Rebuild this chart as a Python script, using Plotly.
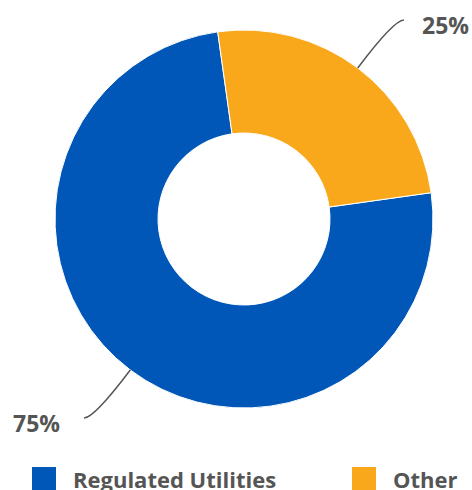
import math
import plotly.graph_objects as go

# ---- data ----
labels = ["Regulated Utilities", "Other"]
values = [75, 25]
text_labels = ["75%", "25%"]
colors = ["#0057B8", "#F9A81B"]

W, H = 472, 490
CX, CY, R = 244, 219, 189
ROT = 82
TXT = "#555555"
FONT = "Open Sans"

def px_to_paper(x, y):
    return x / W, 1 - y / H

fig = go.Figure()
fig.add_trace(go.Pie(
    labels=labels, values=values, sort=False, direction="clockwise",
    rotation=ROT, hole=0.455, textinfo="none", hoverinfo="label+percent",
    marker=dict(colors=colors, line=dict(color="white", width=1)),
    domain=dict(x=[(CX - R) / W, (CX + R) / W], y=[1 - (CY + R) / H, 1 - (CY - R) / H]),
    showlegend=False,
))

shapes = []
annotations = []
total = sum(values)
ang = ROT
for v, t in zip(values, text_labels):
    sweep = v / total * 360
    mid = math.radians(ang + sweep / 2)
    ang += sweep
    dx, dy = math.sin(mid), -math.cos(mid)
    sx, sy = CX + R * dx, CY + R * dy
    k = 48 / abs(dy)
    cx, cy = sx + k * dx, sy + k * dy
    side = 1 if dx >= 0 else -1
    ex, ey = cx + 10 * side, cy
    pts = [px_to_paper(*p) for p in [(sx, sy), (cx, cy), (ex, ey)]]
    path = "M{0},{1} Q{2},{3} {4},{5}".format(
        pts[0][0], pts[0][1], pts[1][0], pts[1][1], pts[2][0], pts[2][1])
    shapes.append(dict(type="path", path=path, xref="paper", yref="paper",
                       line=dict(color=TXT, width=1.5)))
    gap = 16 if side > 0 else 22
    lx, ly = px_to_paper(ex + gap * side, ey + 5)
    annotations.append(dict(text=t, x=lx, y=ly, xref="paper", yref="paper",
                            xanchor="left" if side > 0 else "right", yanchor="middle",
                            showarrow=False, font=dict(family=FONT, size=23, color=TXT, weight="bold")))

# custom legend
leg_y = 479
leg_x = [32, 352]
for x0, lab, c in zip(leg_x, labels, colors):
    a = px_to_paper(x0, 467)
    b = px_to_paper(x0 + 24, 491)
    shapes.append(dict(type="rect", xref="paper", yref="paper", x0=a[0], x1=b[0],
                       y0=b[1], y1=a[1], fillcolor=c, line=dict(width=0)))
    tx, ty = px_to_paper(x0 + 39, leg_y)
    annotations.append(dict(text=lab, x=tx, y=ty, xref="paper", yref="paper",
                            xanchor="left", yanchor="middle", showarrow=False,
                            font=dict(family=FONT, size=22, color=TXT, weight="bold")))

fig.update_layout(
    width=W, height=H, margin=dict(l=0, r=0, t=0, b=0),
    paper_bgcolor="white", plot_bgcolor="white",
    shapes=shapes, annotations=annotations,
)
fig.write_html("out.html", config={"displayModeBar": False},
               post_script="document.body.style.margin='0';document.body.style.overflow='hidden';")
